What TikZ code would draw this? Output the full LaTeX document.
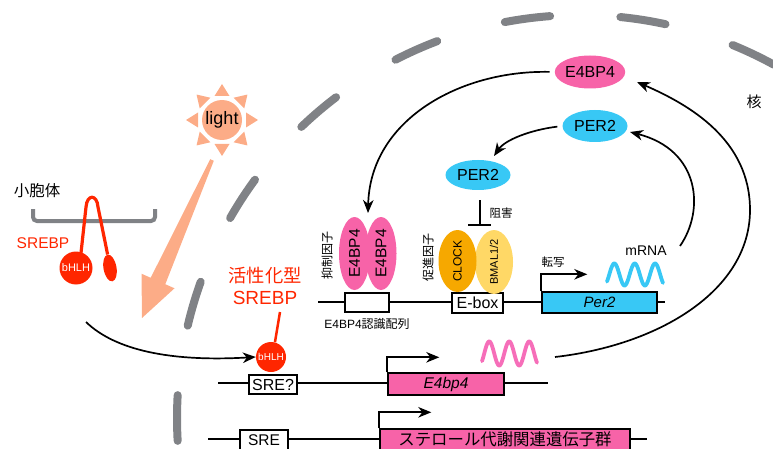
\documentclass[tikz,border=0pt]{standalone}
\usepackage{fontspec}
\setmainfont{Liberation Sans}
\newfontfamily\jp{Noto Sans CJK JP}
\usetikzlibrary{arrows.meta,shapes.geometric}
\definecolor{nucgray}{RGB}{128,130,134}
\definecolor{peach}{RGB}{252,172,135}
\definecolor{srebpred}{RGB}{255,38,0}
\definecolor{rosepink}{RGB}{247,99,168}
\definecolor{wavepink}{RGB}{246,110,185}
\definecolor{percyan}{RGB}{56,200,245}
\definecolor{clockorange}{RGB}{246,168,0}
\definecolor{bmalyellow}{RGB}{255,216,102}
\begin{document}
\begin{tikzpicture}[x=1pt,y=-1pt,
  fs/.style={font=\fontsize{#1}{#1}\selectfont},
  jfs/.style={font=\jp\fontsize{#1}{#1}\selectfont},
  conn/.style={line width=1.7pt,-{Stealth[length=13pt,width=10.5pt,inset=4pt]}},
  dna/.style={line width=1.7pt},
  site/.style={draw,line width=1.4pt,fill=white,inner sep=0},
  gene/.style={draw,line width=1.4pt,inner sep=0},
  blob/.style={ellipse,inner sep=0},
  wave/.style={line width=3.8pt,line cap=round},
  envelope/.style={nucgray,line width=8pt,line cap=round}]

\useasboundingbox (0,0) rectangle (773,449);

% nuclear envelope (broken circle)
\foreach \k in {0,...,7}{
  \pgfmathsetmacro\ta{61.25+16.5*\k}
  \pgfmathsetmacro\tb{67.75+16.5*\k}
  \draw[envelope] plot[domain=\ta:\tb,samples=15,smooth] ({580+403*cos(\x)},{418-403*sin(\x)});
}
\node[jfs=15] (nucleus) at (754,102) {核};

% sun and light arrow
\foreach \r in {0,45,...,315}
  \fill[peach,shift={(222,120)},rotate=\r] (36,0) -- (24,7.5) -- (24,-7.5) -- cycle;
\node[circle,fill=peach,minimum size=40pt,inner sep=0,fs=18] (sun) at (222,120) {light};
\fill[peach] (210.2,159.2) -- (213.8,160.8) -- (165.3,284.2) -- (174.5,288.3)
  -- (142,318) -- (141.5,273.7) -- (150.7,277.8) -- cycle;

% endoplasmic reticulum with membrane-bound SREBP
\node[jfs=15.5] (er) at (37,191) {小胞体};
\draw[nucgray,line width=4pt,rounded corners=4pt] (33,209) -- (33,221) -- (155,221) -- (155,209);
\node[circle,fill=srebpred,minimum size=33pt,inner sep=0,text=white,fs=11] (bhlh1) at (76,268) {bHLH};
\node[ellipse,fill=srebpred,minimum width=13pt,minimum height=27pt,inner sep=0,rotate=10] (tail) at (110,268) {};
\draw[srebpred,line width=3.2pt] (81,253) -- (86,207) .. controls (87,194) and (97,194) .. (98,207) -- (tail.north);
\node[fs=15.5,text=srebpred] (srebp) at (43,243) {SREBP};

% active SREBP
\coordinate (srebpcut) at (86,322);
\node[circle,fill=srebpred,minimum size=30pt,inner sep=0,text=white,fs=10] (bhlh2) at (271,357) {bHLH};
\node[align=center,text=srebpred,fs=19,inner sep=0] (actlabel) at (265,286)
  {{\jp\fontsize{18.3}{18.3}\selectfont 活性化型}\\[3pt]SREBP};
\draw[srebpred,line width=2.5pt] (bhlh2.75) -- (280,312);
\draw[conn] (srebpcut) .. controls (115,350) and (170,362) .. (bhlh2.west);

% row 1: E4BP4 site, E-box, Per2
\draw[dna] (318,302) -- (665,302);
\node[site,minimum width=44pt,minimum height=19pt] (e4site) at (367,302.5) {};
\node[site,minimum width=51pt,minimum height=20pt,fs=16] (ebox) at (477.5,303) {E-box};
\node[gene,fill=percyan,minimum width=115pt,minimum height=21pt,font=\fontsize{15}{15}\selectfont\itshape] (per2gene) at (599.5,302.5) {Per2};
\node[fs=12] (e4sitelabel) at (367,324) {E4BP4{\jp 認識配列}};

\node[blob,fill=rosepink,minimum width=31pt,minimum height=73pt,fs=15.5] (e4a) at (354.5,253.5) {\rotatebox{90}{E4BP4}};
\node[blob,fill=rosepink,minimum width=31pt,minimum height=73pt,fs=15.5] (e4b) at (381,253.5) {\rotatebox{90}{E4BP4}};
\node[jfs=12,rotate=90] (repressor) at (327,255) {抑制因子};

\node[blob,fill=bmalyellow,minimum width=38pt,minimum height=60pt,fs=11] (bmal) at (494,262) {\rotatebox{90}{BMAL1/2}};
\node[blob,fill=clockorange,minimum width=38pt,minimum height=62pt,fs=12] (clock) at (457.5,261) {\rotatebox{90}{CLOCK}};
\node[jfs=12,rotate=90] (activator) at (428,257) {促進因子};

\draw[conn] (per2gene.north west) -- ++(0,-17) -- ++(46,0);
\node[jfs=11.5] (tx1) at (553,262) {転写};
\draw[percyan,wave] plot[domain=-40:950,samples=120,smooth] ({607+(\x+40)/990*56},{274.5-11*sin(\x)});
\node[fs=14] (mrna) at (646,251) {mRNA};

% protein cycle
\node[blob,fill=rosepink,minimum width=66pt,minimum height=33pt,fs=16] (e4top) at (590,72) {E4BP4};
\node[blob,fill=percyan,minimum width=65pt,minimum height=32pt,fs=16] (per2a) at (595,126) {PER2};
\node[blob,fill=percyan,minimum width=65pt,minimum height=30pt,fs=16] (per2b) at (478,175) {PER2};

\coordinate (e4pairtop) at (368,213);
\coordinate (per2bin) at (494,156);
\coordinate (mrnaout) at (680,246);
\coordinate (per2ain) at (630,132);
\coordinate (e4mrna) at (555,357);
\coordinate (e4topin) at (637,82);
\coordinate (inhtop) at (480,200);
\coordinate (inhbar) at (480,225);

\draw[conn,shorten <=5pt] (e4top.west) .. controls (460,70) and (370,120) .. (e4pairtop);
\draw[conn,shorten <=5pt] (per2a.west) .. controls (530,130) and (505,140) .. (per2bin);
\draw[conn] (mrnaout) .. controls (705,210) and (700,150) .. (per2ain);
\draw[conn] (e4mrna) .. controls (660,345) and (750,290) .. (750,210)
  .. controls (750,140) and (690,105) .. (e4topin);

% inhibition of CLOCK/BMAL by PER2
\draw[line width=1.7pt] (inhtop) -- (inhbar);
\draw[line width=1.7pt] (468,225) -- (491,225);
\node[jfs=11.5] (inhlabel) at (501,213) {阻害};

% row 2: SRE? and E4bp4
\draw[dna] (218,383) -- (548,383);
\node[site,minimum width=48pt,minimum height=19pt,fs=16] (sreq) at (273,384.5) {SRE?};
\node[gene,fill=rosepink,minimum width=116pt,minimum height=22pt,font=\fontsize{15.5}{15.5}\selectfont\itshape] (e4gene) at (446,384) {E4bp4};
\draw[conn] (e4gene.north west) -- ++(0,-15) -- ++(52,0);
\draw[wavepink,wave] plot[domain=-40:950,samples=120,smooth] ({482+(\x+40)/990*55},{353.5-12*sin(\x)});

% row 3: SRE and sterol metabolism genes
\draw[dna] (208,439) -- (647,439);
\node[site,minimum width=48pt,minimum height=20pt,fs=15.5] (sre) at (264,440) {SRE};
\node[gene,fill=rosepink,minimum width=250pt,minimum height=21pt,jfs=16.4] (sterol) at (505,439.5) {ステロール代謝関連遺伝子群};
\draw[conn] (sterol.north west) -- ++(0,-16) -- ++(52,0);
\end{tikzpicture}
\end{document}
